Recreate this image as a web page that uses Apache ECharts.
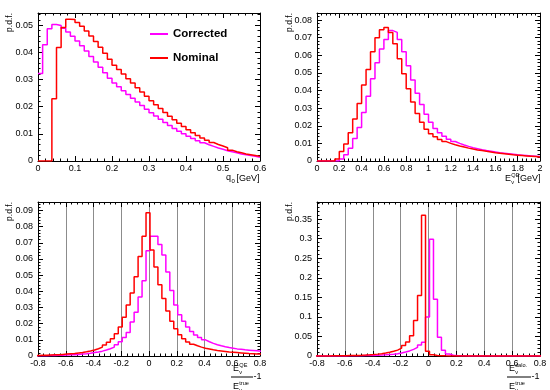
<!DOCTYPE html>
<html><head><meta charset="utf-8">
<script src="https://cdn.jsdelivr.net/npm/echarts@6/dist/echarts.min.js"></script>
<style>html,body{margin:0;padding:0;background:#fff}#c{width:550px;height:390px}</style>
</head><body><div id="c"></div>
<script>
// ---------------- data ----------------
const seriesNames = ['Corrected', 'Nominal'];

// panel 1: q0 [GeV], 48 bins of 0.0125 from 0
const q0Bins = { start: 0, width: 0.0125 };
const q0Corrected = [0.0322,0.0428,0.0487,0.0503,0.0499,0.0489,0.0475,0.0459,0.0442,0.0424,0.0405,0.0385,0.0365,0.0345,0.0325,0.0305,0.0287,0.0273,0.0259,0.0245,0.0231,0.0217,0.0204,0.0191,0.0178,0.0166,0.0154,0.0142,0.0131,0.0120,0.0110,0.0100,0.0091,0.0083,0.0075,0.0067,0.0060,0.0054,0.0048,0.0043,0.0038,0.0034,0.0030,0.0026,0.0023,0.0020,0.0017,0.0014];
const q0Nominal = [0,0,0,0.0229,0.0418,0.0492,0.0522,0.0521,0.0510,0.0496,0.0479,0.0460,0.0440,0.0419,0.0397,0.0375,0.0353,0.0337,0.0320,0.0303,0.0287,0.0270,0.0254,0.0238,0.0222,0.0207,0.0193,0.0179,0.0165,0.0152,0.0139,0.0127,0.0115,0.0104,0.0094,0.0085,0.0076,0.0068,0.0061,0.0055,0.0049,0.0040,0.0034,0.0030,0.0026,0.0023,0.0020,0.0017];

// panel 2: E_nu^QE [GeV], 50 bins of 0.04 from 0
const eqeBins = { start: 0, width: 0.04 };
const eqeCorrected = [0,0,0,0,0,0.0012,0.0035,0.0072,0.0128,0.0190,0.0275,0.0368,0.0467,0.0557,0.0635,0.0690,0.0740,0.0730,0.0690,0.0620,0.0540,0.0460,0.0385,0.0320,0.0265,0.0220,0.0185,0.0160,0.0140,0.0124,0.0111,0.0100,0.0091,0.0083,0.0076,0.0070,0.0064,0.0059,0.0055,0.0051,0.0047,0.0044,0.0041,0.0038,0.0035,0.0033,0.0031,0.0029,0.0027,0.0025];
const eqeNominal = [0,0,0,0,0.0012,0.0054,0.0096,0.0160,0.0238,0.0326,0.0432,0.0520,0.0620,0.0700,0.0745,0.0757,0.0730,0.0665,0.0580,0.0495,0.0410,0.0335,0.0270,0.0220,0.0180,0.0155,0.0137,0.0122,0.0110,0.0100,0.0092,0.0085,0.0079,0.0073,0.0068,0.0063,0.0059,0.0055,0.0051,0.0047,0.0044,0.0041,0.0038,0.0035,0.0033,0.0031,0.0029,0.0027,0.0025,0.0023];

// panels 3 and 4: resolution, 57 bins of 0.02857 starting at -0.8214
const resBins = { start: -0.8214, width: 0.02857 };
const resQECorrected = [0.0001,0.0002,0.0002,0.0003,0.0003,0.0004,0.0005,0.0006,0.0007,0.0008,0.0010,0.0012,0.0014,0.0017,0.0021,0.0025,0.0030,0.0037,0.0045,0.0055,0.0069,0.0088,0.0115,0.0145,0.0210,0.0270,0.0365,0.0465,0.0650,0.0740,0.0740,0.0690,0.0625,0.0520,0.0405,0.0315,0.0255,0.0215,0.0180,0.0152,0.0130,0.0114,0.0100,0.0088,0.0078,0.0070,0.0063,0.0057,0.0052,0.0048,0.0044,0.0041,0.0038,0.0036,0.0034,0.0032,0.0030];
const resQENominal = [0.0003,0.0004,0.0005,0.0006,0.0007,0.0008,0.0010,0.0012,0.0014,0.0016,0.0019,0.0022,0.0026,0.0031,0.0037,0.0045,0.0055,0.0068,0.0085,0.0107,0.0138,0.0180,0.0240,0.0315,0.0390,0.0490,0.0615,0.0740,0.0885,0.0655,0.0550,0.0440,0.0355,0.0278,0.0215,0.0168,0.0132,0.0106,0.0087,0.0073,0.0063,0.0055,0.0048,0.0043,0.0038,0.0034,0.0031,0.0028,0.0025,0.0023,0.0021,0.0019,0.0017,0.0015,0.0014,0.0013,0.0012];
const resCaloCorrected = [0.0001,0.0001,0.0001,0.0002,0.0002,0.0002,0.0003,0.0003,0.0004,0.0005,0.0006,0.0008,0.0010,0.0012,0.0015,0.0019,0.0024,0.0030,0.0037,0.0047,0.0060,0.0078,0.0100,0.0130,0.0170,0.0220,0.0280,0.0350,0.1000,0.2990,0.1450,0.0480,0.0150,0.0050,0.0020,0.0010,0.0006,0.0004,0.0003,0.0002,0.0002,0.0002,0.0002,0.0002,0.0002,0.0001,0.0001,0.0001,0.0001,0.0001,0.0001,0.0001,0.0001,0.0001,0.0001,0.0001,0.0001];
const resCaloNominal = [0.0001,0.0002,0.0002,0.0003,0.0004,0.0005,0.0006,0.0008,0.0010,0.0012,0.0015,0.0019,0.0024,0.0030,0.0038,0.0048,0.0060,0.0075,0.0095,0.0120,0.0150,0.0200,0.0270,0.0360,0.0520,0.0910,0.1550,0.3600,0.0120,0.0030,0.0015,0.0008,0.0004,0.0003,0.0002,0.0002,0.0002,0.0001,0.0001,0.0001,0.0001,0.0001,0.0001,0.0001,0.0001,0.0001,0.0001,0.0001,0.0001,0.0001,0.0001,0.0001,0.0001,0.0001,0.0001,0.0001,0.0001];

// axis ranges / tick spacing
const xRanges = [[0, 0.6, 0.1], [0, 2, 0.2], [-0.8, 0.8, 0.2], [-0.8, 0.8, 0.2]];
const yRanges = [[0, 0.0545, 0.01], [0, 0.084, 0.01], [0, 0.0952, 0.01], [0, 0.394, 0.05]];
const yTitle = 'p.d.f.';

// ---------------- chart ----------------
const FONT = 'Liberation Sans, Arial, Helvetica, sans-serif';
const COLORS = { Corrected: '#ff00ff', Nominal: '#ff0000' };
const grids = [
  { left: 38, top: 13, width: 222, height: 148 },
  { left: 317, top: 13, width: 223, height: 148 },
  { left: 38, top: 202, width: 222, height: 154 },
  { left: 317, top: 202, width: 223, height: 154 }
];
const panels = [
  { bins: q0Bins, data: [q0Corrected, q0Nominal], vgrid: false },
  { bins: eqeBins, data: [eqeCorrected, eqeNominal], vgrid: false },
  { bins: resBins, data: [resQECorrected, resQENominal], vgrid: true },
  { bins: resBins, data: [resCaloCorrected, resCaloNominal], vgrid: true }
];

function histPoints(bins, vals) {
  const pts = vals.map((v, i) => [bins.start + i * bins.width, v]);
  pts.push([bins.start + vals.length * bins.width, vals[vals.length - 1]]);
  return pts;
}

const blk = { color: '#000', width: 1 };
const xAxis = [], yAxis = [], series = [];
grids.forEach((g, gi) => {
  const [xmin, xmax, xint] = xRanges[gi];
  const [ymin, ymax, yint] = yRanges[gi];
  ['bottom', 'top'].forEach((pos, k) => xAxis.push({
    type: 'value', gridIndex: gi, position: pos, min: xmin, max: xmax, interval: xint,
    axisLine: { show: true, onZero: false, lineStyle: blk },
    axisTick: { show: true, inside: true, length: 5, lineStyle: blk },
    minorTick: { show: true, splitNumber: 5, length: 2.5, lineStyle: blk },
    axisLabel: { show: k === 0, color: '#000', fontSize: 9, fontFamily: FONT, margin: 3 },
    splitLine: { show: k === 0 && panels[gi].vgrid, lineStyle: { color: '#8c8c8c', width: 1 } }
  }));
  ['left', 'right'].forEach((pos, k) => yAxis.push({
    type: 'value', gridIndex: gi, position: pos, min: ymin, max: ymax, interval: yint,
    axisLine: { show: true, onZero: false, lineStyle: blk },
    axisTick: { show: true, inside: true, length: 5, lineStyle: blk },
    minorTick: { show: true, splitNumber: 5, length: 2.5, lineStyle: blk },
    axisLabel: { show: k === 0, showMaxLabel: false, color: '#000', fontSize: 9, fontFamily: FONT, margin: 5 },
    splitLine: { show: false }
  }));
  panels[gi].data.forEach((vals, si) => {
    const name = seriesNames[si];
    series.push({
      type: 'line', name, xAxisIndex: 2 * gi, yAxisIndex: 2 * gi,
      data: histPoints(panels[gi].bins, vals), step: 'end',
      showSymbol: false, symbol: 'none', clip: true, silent: true,
      lineStyle: { color: COLORS[name], width: 1.5 },
      itemStyle: { color: COLORS[name] }
    });
  });
});

function txt(text, x, y, size, align, extra) {
  return Object.assign({ type: 'text', x, y, silent: true,
    style: { text, fill: '#000', fontSize: size, fontFamily: FONT,
      align, textAlign: align, verticalAlign: 'middle', textVerticalAlign: 'middle' } }, extra || {});
}
function eSym(x, y, sup, sub, size) {
  const s = size || 9;
  return [txt('E', x, y, s, 'left'), txt(sup, x + s * 0.7, y - s * 0.36, s * 0.62, 'left'),
          txt(sub, x + s * 0.7, y + s * 0.4, s * 0.62, 'left')];
}
function frac(xl, xr, yBar, sup) {
  return [].concat(
    eSym(xl + 2, yBar - 8, sup, 'ν'),
    [{ type: 'line', silent: true, shape: { x1: xl, y1: yBar, x2: xr, y2: yBar }, style: { stroke: '#000', lineWidth: 1 } }],
    eSym(xl + 2, yBar + 10, 'true', 'ν'),
    [txt('-1', xr + 0.5, yBar, 9, 'left')]
  );
}

const graphics = [].concat(
  [txt(yTitle, 10, 13, 8.5, 'right', { rotation: Math.PI / 2 }),
   txt(yTitle, 290, 13, 8.5, 'right', { rotation: Math.PI / 2 }),
   txt(yTitle, 10, 202, 8.5, 'right', { rotation: Math.PI / 2 }),
   txt(yTitle, 290, 202, 8.5, 'right', { rotation: Math.PI / 2 })],
  [txt('[GeV]', 259.5, 178.5, 9, 'right'), txt('q', 226, 177.5, 9, 'left'), txt('0', 231.5, 181, 6, 'left')],
  eSym(505, 179, 'QE', 'ν'), [txt('[GeV]', 540.5, 178.5, 9, 'right')],
  frac(231, 253, 377, 'QE'),
  frac(507, 531, 377, 'calo.')
);

const chart = echarts.init(document.getElementById('c'), null, { renderer: 'canvas' });
chart.setOption({
  animation: false,
  backgroundColor: '#fff',
  grid: grids.map(g => Object.assign({ containLabel: false, outerBoundsMode: 'none' }, g)),
  xAxis, yAxis, series,
  legend: {
    data: seriesNames, orient: 'vertical', left: 145, top: 23,
    itemWidth: 18, itemHeight: 2, itemGap: 12, icon: 'rect',
    itemStyle: { borderWidth: 0 },
    textStyle: { color: '#000', fontSize: 11.5, fontWeight: 'bold', fontFamily: FONT }
  },
  graphic: { elements: graphics }
});
</script></body></html>
